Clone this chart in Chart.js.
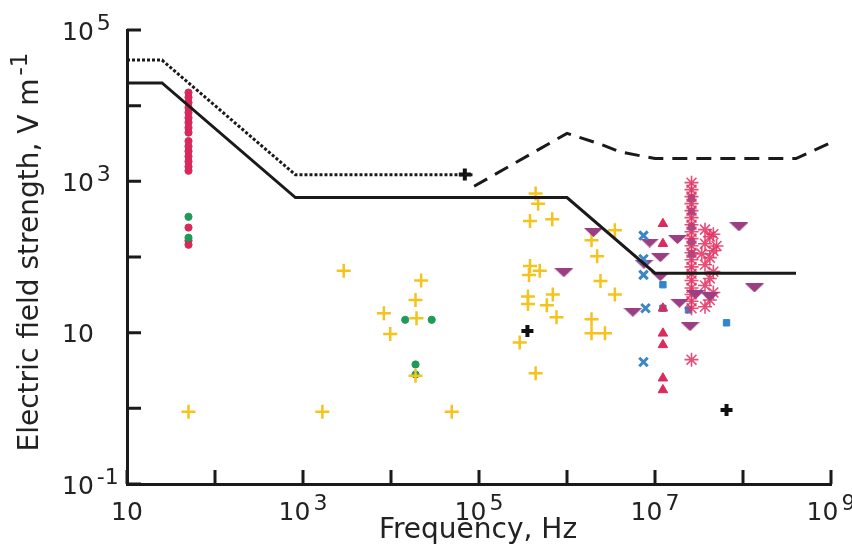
<!DOCTYPE html>
<html>
<head>
<meta charset="utf-8">
<script src="https://cdn.jsdelivr.net/npm/chart.js@4.4.1/dist/chart.umd.min.js"></script>
<style>
  html, body { margin: 0; padding: 0; background: #fff; }
  #wrap { width: 852px; height: 544px; }
</style>
</head>
<body>
<div id="wrap"><canvas id="chart" width="852" height="544"></canvas></div>
<script>
// Decade ticks on both axes, and the labelled ones (base, exponent)
const xTicks = [1e1, 1e2, 1e3, 1e4, 1e5, 1e6, 1e7, 1e8, 1e9];
const xLabelValues = [1e1, 1e3, 1e5, 1e7, 1e9];
const xLabelTexts = [['10', ''], ['10', '3'], ['10', '5'], ['10', '7'], ['10', '9']];
const yTicks = [1e-1, 1e0, 1e1, 1e2, 1e3, 1e4, 1e5];
const yLabelValues = [1e-1, 1e1, 1e3, 1e5];
const yLabelTexts = [['10', '-1'], ['10', ''], ['10', '3'], ['10', '5']];

// Reference levels (frequency Hz, field V/m)
const solidFreq = [10, 25, 820, 1e6, 1e7, 4e8];
const solidField = [20000, 20000, 610, 610, 61, 61];
const dottedFreq = [10, 25, 820, 8.5e4];
const dottedField = [40000, 40000, 1220, 1220];
const dashedFreq = [8.8e4, 1e6, 2.4e6, 4e6, 1e7, 4e8, 1e9];
const dashedField = [860, 4300, 3100, 2450, 2000, 2000, 3250];

// Measurements [frequency, field]
const redDots = [
  [50, 14900], [50, 12900], [50, 11000], [50, 9400], [50, 8100], [50, 6900], [50, 6000],
  [50, 5100], [50, 4400], [50, 3400], [50, 2900], [50, 2500], [50, 2130], [50, 1830],
  [50, 1560], [50, 1380], [50, 245], [50, 165], [50, 145]
];
const greenDots = [[50, 340], [50, 180], [14500, 14.8], [29000, 14.8], [19000, 3.8], [19000, 2.8]];
const yellowPlus = [
  [50, 0.9], [1660, 0.9], [49000, 0.9],
  [2900, 66], [22000, 49], [19000, 27], [8300, 18], [19500, 15.5], [9800, 9.6], [19000, 2.7],
  [440000, 690], [470000, 505], [380000, 300], [680000, 315], [1.9e6, 166], [3.5e6, 225],
  [2.2e6, 102], [380000, 76], [370000, 58], [490000, 66], [2.4e6, 48], [3.5e6, 32],
  [360000, 30], [360000, 24], [690000, 32], [590000, 23], [760000, 16], [1.9e6, 15],
  [1.9e6, 9.8], [2.7e6, 9.8], [290000, 7.4], [440000, 2.9]
];
const blackStars = [[69000, 1230], [355000, 10.5], [6.5e7, 0.95]];
const purpleTriangles = [
  [2e6, 210], [920000, 62], [8.7e6, 153], [1.8e7, 170], [1.15e7, 98], [7.5e6, 80],
  [1.15e7, 55], [2.9e7, 32], [4.2e7, 30], [1.9e7, 24.5], [5.6e6, 18.6], [2.5e7, 12],
  [9e7, 250], [1.35e8, 39]
];
const blueCrosses = [[7.4e6, 192], [7.4e6, 94], [7.4e6, 58], [7.8e6, 21], [7.4e6, 4.1]];
const redTriangles = [
  [1.23e7, 275], [1.23e7, 150], [1.23e7, 21], [1.23e7, 9.8], [1.23e7, 6.9], [1.23e7, 2.5], [1.23e7, 1.75]
];
const blueSquares = [
  [1.23e7, 43], [1.23e7, 21], [2.4e7, 20], [6.5e7, 13.5],
  [2.6e7, 600], [2.6e7, 400], [2.6e7, 250], [2.6e7, 160], [2.6e7, 110]
];
const asterisks = [
  [2.6e7, 960], [2.6e7, 776], [2.6e7, 628], [2.6e7, 507], [2.6e7, 410], [2.6e7, 331],
  [2.6e7, 267], [2.6e7, 216], [2.6e7, 175], [2.6e7, 141], [2.6e7, 114], [2.6e7, 92],
  [2.6e7, 74], [2.6e7, 60], [2.6e7, 49], [2.6e7, 39], [2.6e7, 32], [2.6e7, 26], [2.6e7, 21],
  [2.6e7, 4.4],
  [3.7e7, 230], [4.6e7, 200], [4.2e7, 186], [3.7e7, 150], [5e7, 140], [4.6e7, 121],
  [3.4e7, 110], [4.2e7, 98], [3.7e7, 79], [4.6e7, 64], [4.2e7, 52], [3.7e7, 42],
  [4.6e7, 34], [4.2e7, 27], [3.7e7, 22]
];

const toXY = pts => pts.map(([x, y]) => ({ x, y }));
const zipXY = (xs, ys) => xs.map((x, i) => ({ x, y: ys[i] }));

// wide, flat downward triangle used for the purple markers
function flatTriangle(w, h, color) {
  const c = document.createElement('canvas');
  c.width = w; c.height = h;
  const g = c.getContext('2d');
  g.fillStyle = color;
  g.beginPath();
  g.moveTo(0, 0); g.lineTo(w, 0); g.lineTo(w / 2, h);
  g.closePath();
  g.fill();
  return c;
}

const FONT = '"DejaVu Sans", Verdana, sans-serif';
const INK = '#222';

function drawPower(ctx, base, exp, x, y, align, baseSize, expSize, raise) {
  ctx.font = `${baseSize}px ${FONT}`;
  const wb = ctx.measureText(base).width;
  ctx.font = `${expSize}px ${FONT}`;
  const we = exp ? ctx.measureText(exp).width + 3 : 0;
  let left = x;
  if (align === 'center') left = x - (wb + we) / 2;
  else if (align === 'right') left = x - wb - we;
  ctx.textAlign = 'left';
  ctx.textBaseline = 'middle';
  ctx.font = `${baseSize}px ${FONT}`;
  ctx.fillText(base, left, y);
  if (exp) {
    ctx.font = `${expSize}px ${FONT}`;
    ctx.fillText(exp, left + wb + 3, y - raise);
  }
}

const axisDecor = {
  id: 'axisDecor',
  beforeDatasetsDraw(chart) {
    const { ctx, chartArea: a, scales: { x, y } } = chart;
    ctx.save();
    ctx.strokeStyle = '#1a1a1a';
    ctx.lineWidth = 3;
    ctx.beginPath();
    xTicks.forEach(v => {
      const px = x.getPixelForValue(v);
      ctx.moveTo(px, a.bottom); ctx.lineTo(px, a.bottom - 14);
    });
    yTicks.forEach(v => {
      const py = y.getPixelForValue(v);
      ctx.moveTo(a.left, py); ctx.lineTo(a.left + 14, py);
    });
    ctx.stroke();
    ctx.restore();
  },
  afterDraw(chart) {
    const { ctx, chartArea: a, scales: { x, y } } = chart;
    ctx.save();
    ctx.fillStyle = INK;
    xLabelValues.forEach((v, i) => {
      const [b, e] = xLabelTexts[i];
      drawPower(ctx, b, e, x.getPixelForValue(v), a.bottom + 29, 'center', 25, 22, 9);
    });
    yLabelValues.forEach((v, i) => {
      const [b, e] = yLabelTexts[i];
      drawPower(ctx, b, e, 62, y.getPixelForValue(v) + 3, 'left', 25, 22, 9);
    });
    // axis titles
    ctx.font = `28px ${FONT}`;
    ctx.textAlign = 'center';
    ctx.textBaseline = 'middle';
    ctx.fillText('Frequency, Hz', 478, 531);

    ctx.translate(31, 252);
    ctx.rotate(-Math.PI / 2);
    drawPower(ctx, 'Electric field strength, V m', '-1', 0, 0, 'center', 28, 23, 10);
    ctx.restore();
  }
};

const ctx = document.getElementById('chart').getContext('2d');

const lineStyle = { showLine: true, pointRadius: 0, borderColor: '#1a1a1a', borderWidth: 3, fill: false };

new Chart(ctx, {
  type: 'scatter',
  data: {
    datasets: [
      { ...lineStyle, label: 'solid', data: zipXY(solidFreq, solidField) },
      { ...lineStyle, label: 'dotted', data: zipXY(dottedFreq, dottedField), borderDash: [3, 2] },
      { ...lineStyle, label: 'dashed', data: zipXY(dashedFreq, dashedField), borderDash: [15, 9] },
      { label: 'black', data: toXY(blackStars), pointStyle: 'cross', radius: 6,
        borderColor: '#111', backgroundColor: '#111', borderWidth: 4 },
      { label: 'blueX', data: toXY(blueCrosses), pointStyle: 'crossRot', radius: 6,
        borderColor: '#3a86c6', borderWidth: 3 },
      { label: 'purple', data: toXY(purpleTriangles), pointStyle: flatTriangle(19, 9, '#9a3f83'),
        radius: 9 },
      { label: 'redTri', data: toXY(redTriangles), pointStyle: 'triangle', radius: 5.5,
        backgroundColor: '#db2a5c', borderColor: '#db2a5c', borderWidth: 1 },
      { label: 'asterisk', data: toXY(asterisks), pointStyle: 'star', radius: 7,
        borderColor: 'rgba(226, 48, 96, 0.85)', borderWidth: 1.6 },
      { label: 'blueSq', data: toXY(blueSquares), pointStyle: 'rect', radius: 4.5,
        backgroundColor: '#2f86cc', borderColor: '#2f86cc', borderWidth: 1 },
      { label: 'yellow', data: toXY(yellowPlus), pointStyle: 'cross', radius: 7,
        borderColor: '#f5c31c', borderWidth: 2.5 },
      { label: 'green', data: toXY(greenDots), pointStyle: 'circle', radius: 3.6,
        backgroundColor: '#1f9a58', borderColor: '#1f9a58', borderWidth: 1 },
      { label: 'red', data: toXY(redDots), pointStyle: 'circle', radius: 3.6,
        backgroundColor: '#d8285c', borderColor: '#d8285c', borderWidth: 1 }
    ]
  },
  options: {
    responsive: false,
    animation: false,
    devicePixelRatio: 1,
    layout: { padding: { top: 30, right: 21, left: 0, bottom: 0 } },
    plugins: { legend: { display: false }, tooltip: { enabled: false } },
    scales: {
      x: {
        type: 'logarithmic', min: 10, max: 1e9,
        grid: { display: false },
        border: { display: true, color: '#1a1a1a', width: 3 },
        ticks: { display: false },
        afterFit(s) { s.height = 60; }
      },
      y: {
        type: 'logarithmic', min: 0.1, max: 1e5,
        grid: { display: false },
        border: { display: true, color: '#1a1a1a', width: 3 },
        ticks: { display: false },
        afterFit(s) { s.width = 127; }
      }
    }
  },
  plugins: [axisDecor]
});
</script>
</body>
</html>
